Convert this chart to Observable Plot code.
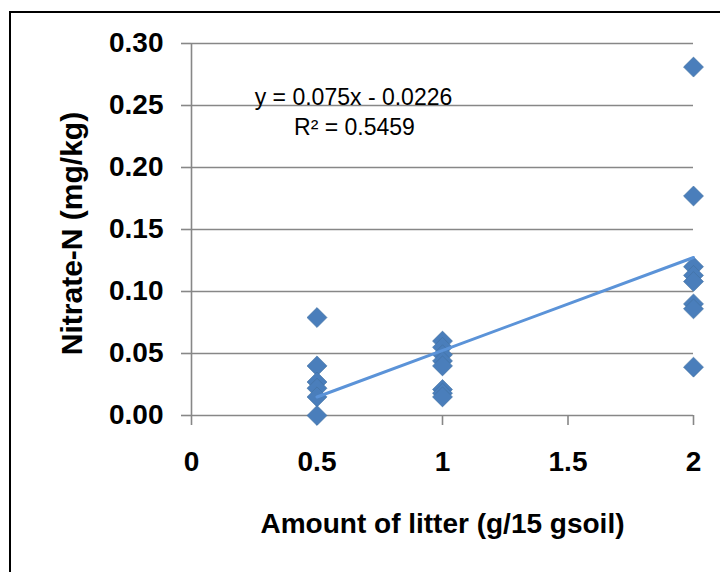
<!DOCTYPE html>
<html><head><meta charset="utf-8">
<script src="https://cdn.jsdelivr.net/npm/d3@7"></script>
<script src="https://cdn.jsdelivr.net/npm/@observablehq/plot@0.6"></script>
<style>
html,body{margin:0;padding:0;background:#fff;overflow:hidden;width:720px;height:572px;}
#wrap{position:relative;width:720px;height:572px;overflow:hidden;}
#border{position:absolute;left:9px;top:11px;width:800px;height:800px;border:2px solid #000;box-sizing:border-box;pointer-events:none;}
#chart{position:absolute;left:0;top:0;}
</style></head><body>
<div id="wrap"><div id="chart"></div><div id="border"></div></div>
<script>
// ---- data ----
const litterLevels = [0.5, 1, 2];
const nitrateAt05 = [0.079, 0.040, 0.027, 0.022, 0.015, 0.000];
const nitrateAt1 = [0.060, 0.055, 0.049, 0.044, 0.040, 0.021, 0.018, 0.015];
const nitrateAt2 = [0.281, 0.177, 0.120, 0.113, 0.108, 0.090, 0.086, 0.039];
const xTicks = [0, 0.5, 1, 1.5, 2];
const xTickLabels = ["0", "0.5", "1", "1.5", "2"];
const yTicks = [0, 0.05, 0.10, 0.15, 0.20, 0.25, 0.30];
const trendSlope = 0.075;
const trendIntercept = -0.0226;
const trendRange = [0.5, 2];
const equationLines = ["y = 0.075x - 0.0226", "R² = 0.5459"];
const xTitle = "Amount of litter (g/15 gsoil)";
const yTitle = "Nitrate-N (mg/kg)";

// ---- build tables ----
const groups = [nitrateAt05, nitrateAt1, nitrateAt2];
const points = [];
groups.forEach((vals, gi) => vals.forEach(v => points.push({x: litterLevels[gi], y: v})));
const trend = trendRange.map(x => ({x, y: trendSlope * x + trendIntercept}));

const gray = "#878787";
const font = "'Liberation Sans', Arial, sans-serif";

const chart = Plot.plot({
  width: 720,
  height: 572,
  marginLeft: 191,
  marginRight: 27,
  marginTop: 43,
  marginBottom: 157,
  style: {fontFamily: font, background: "transparent", color: "#000", overflow: "visible"},
  x: {domain: [0, 2], axis: null},
  y: {domain: [0, 0.30], axis: null},
  marks: [
    Plot.gridY(yTicks, {stroke: gray, strokeOpacity: 1, strokeWidth: 1.6}),
    Plot.axisY({ticks: yTicks, tickSize: 10, tickPadding: 18, tickFormat: d3.format(".2f"),
      fontSize: 28, fontWeight: "bold", stroke: gray, strokeWidth: 1.6, strokeOpacity: 1, fill: "#000", label: null}),
    Plot.ruleX([0], {y1: 0, y2: 0.30, stroke: gray, strokeWidth: 1.6}),
    Plot.axisX({ticks: xTicks, tickSize: 10, tickPadding: 26, tickFormat: (d, i) => xTickLabels[i],
      fontSize: 28, fontWeight: "bold", stroke: gray, strokeWidth: 1.6, strokeOpacity: 1, fill: "#000", label: null}),
    Plot.dot(points, {x: "x", y: "y", symbol: "diamond2", r: 9, fill: "#4A7EBB", stroke: "#41709F", strokeWidth: 0.6}),
    Plot.line(trend, {x: "x", y: "y", stroke: "#5B93D8", strokeWidth: 3}),
    Plot.text([equationLines[0]], {frameAnchor: "top-left", dx: 162, dy: 54, textAnchor: "middle", lineAnchor: "middle", fontSize: 23, fill: "#000"}),
    Plot.text([equationLines[1]], {frameAnchor: "top-left", dx: 163, dy: 84, textAnchor: "middle", lineAnchor: "middle", fontSize: 23, fill: "#000"}),
    Plot.text([xTitle], {frameAnchor: "bottom", dy: 117, textAnchor: "middle", lineAnchor: "bottom", fontSize: 28, fontWeight: "bold", fill: "#000"}),
    Plot.text([yTitle], {frameAnchor: "left", dx: -119, dy: 4, rotate: -90, textAnchor: "middle", lineAnchor: "middle", fontSize: 30, fontWeight: "bold", fill: "#000"})
  ]
});
document.getElementById("chart").appendChild(chart);
</script>
</body></html>
